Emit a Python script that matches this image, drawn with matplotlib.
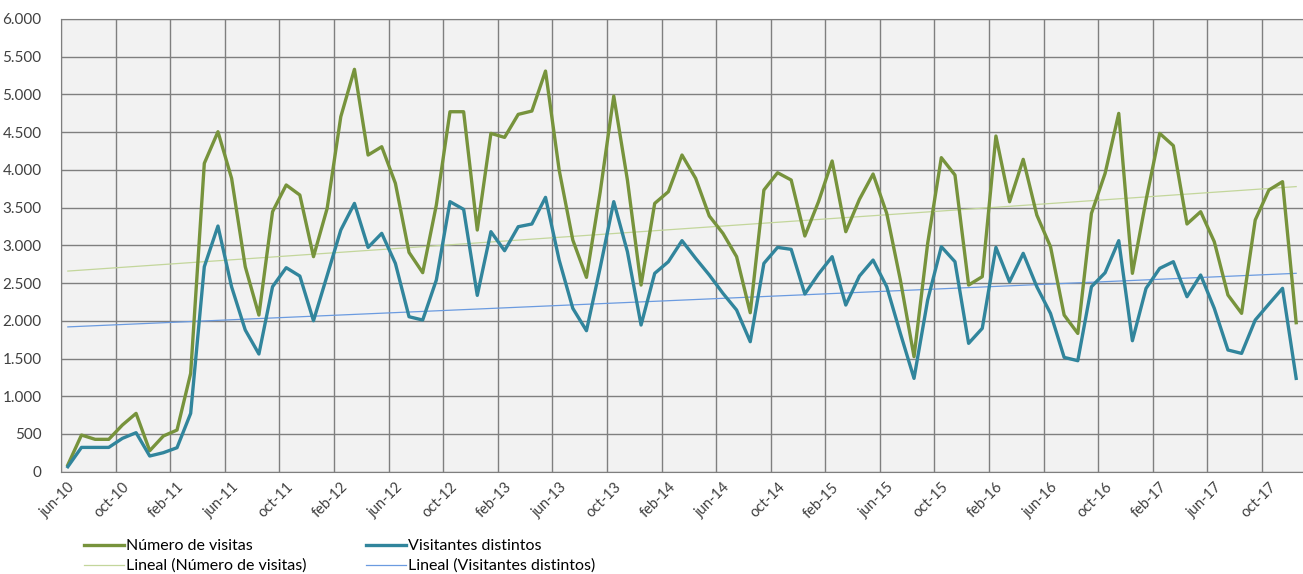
import matplotlib.pyplot as plt
import matplotlib.ticker as mticker
import numpy as np
import pandas as pd

plt.rcParams['font.family'] = ['Lato', 'DejaVu Sans']

# monthly data jun-10 .. dec-17
months = pd.period_range('2010-06', '2017-12', freq='M')
mes_abrev = ['ene', 'feb', 'mar', 'abr', 'may', 'jun', 'jul', 'ago', 'sep', 'oct', 'nov', 'dic']
month_labels = [f"{mes_abrev[p.month - 1]}-{p.year % 100:02d}" for p in months]

visitas = [90, 486, 429, 429, 619, 773, 278, 473, 552, 1303,
           4087, 4506, 3888, 2717, 2076, 3446, 3800, 3667, 2850, 3490,
           4705, 5333, 4197, 4307, 3822, 2907, 2638, 3534, 4771, 4771,
           3203, 4484, 4431, 4736, 4780, 5310, 3998, 3070, 2576, 3700,
           4979, 3866, 2474, 3556, 3711, 4197, 3888, 3389, 3159, 2850,
           2107, 3733, 3963, 3866, 3124, 3578, 4118, 3181, 3610, 3945,
           3424, 2540, 1524, 3026, 4162, 3932, 2474, 2585, 4449, 3578,
           4140, 3400, 2982, 2076, 1833, 3424, 3954, 4749, 2629, 3600,
           4484, 4321, 3283, 3446, 3048, 2342, 2099, 3336, 3733, 3844,
           1975]
visitantes = [66, 322, 322, 322, 442, 517, 208, 252, 318, 773,
              2717, 3256, 2450, 1878, 1560, 2452, 2704, 2593, 2001, 2600,
              3203, 3556, 2973, 3159, 2761, 2054, 2010, 2540, 3579, 3477,
              2337, 3181, 2929, 3247, 3283, 3636, 2805, 2165, 1869, 2700,
              3579, 2916, 1944, 2629, 2783, 3062, 2828, 2607, 2364, 2143,
              1723, 2761, 2973, 2947, 2355, 2620, 2850, 2209, 2593, 2805,
              2452, 1833, 1237, 2275, 2982, 2783, 1701, 1900, 2973, 2518,
              2894, 2450, 2098, 1515, 1471, 2452, 2637, 3062, 1736, 2430,
              2695, 2783, 2319, 2607, 2165, 1613, 1568, 2010, 2222, 2430,
              1237]

x = np.arange(len(months))
tick_step = 4

c_vis = '#77933C'
c_dist = '#31859C'
c_vis_tr = '#C3D69B'
c_dist_tr = '#6B9BE0'

fig = plt.figure(figsize=(13.03, 5.74), dpi=100)
ax = fig.add_axes([61 / 1303, 1 - 471.7 / 574, 1 - 61 / 1303, (471.7 - 19) / 574])
ax.set_facecolor('#F2F2F2')

# trend lines (linear fit)
p_vis = np.polyfit(x, visitas, 1)
p_dist = np.polyfit(x, visitantes, 1)

l1, = ax.plot(x, visitas, color=c_vis, lw=2.4, label='Número de visitas', zorder=4)
l2, = ax.plot(x, visitantes, color=c_dist, lw=2.4, label='Visitantes distintos', zorder=4)
l3, = ax.plot(x, np.polyval(p_vis, x), color=c_vis_tr, lw=0.9, label='Lineal (Número de visitas)', zorder=3)
l4, = ax.plot(x, np.polyval(p_dist, x), color=c_dist_tr, lw=0.9, label='Lineal (Visitantes distintos)', zorder=3)

ax.set_xlim(-0.5, len(months) - 0.5)
ax.set_ylim(0, 6000)
ax.yaxis.set_major_locator(mticker.MultipleLocator(500))
ax.yaxis.set_major_formatter(mticker.FuncFormatter(lambda v, p: f"{int(v):,}".replace(',', '.')))

ticks = x[::tick_step]
ax.set_xticks(ticks)
ax.set_xticklabels([month_labels[i] for i in ticks], rotation=45, ha='right',
                   rotation_mode='anchor', fontsize=10.5, color='#404040')
ax.set_xticks(np.arange(-0.5, len(months), tick_step), minor=True)
ax.tick_params(axis='x', which='both', length=0, pad=6)
ax.tick_params(axis='y', length=0, labelsize=11, labelcolor='#404040', pad=14)

ax.grid(True, which='major', axis='y', color='#7F7F7F', lw=1.0)
ax.grid(True, which='minor', axis='x', color='#7F7F7F', lw=1.0)
ax.set_axisbelow(True)
for s in ['top', 'left', 'bottom', 'right']:
    ax.spines[s].set_color('#7F7F7F')
ax.spines['right'].set_visible(False)

fig.legend(handles=[l1, l3, l2, l4], ncol=2, loc='upper left',
           bbox_to_anchor=(84 / 1303, 1 - 539 / 574), frameon=False,
           fontsize=11.5, handlelength=2.5, handletextpad=0.15,
           columnspacing=3.7, labelspacing=0.35, borderaxespad=0, borderpad=0)

fig.savefig('out.png', dpi=100)
